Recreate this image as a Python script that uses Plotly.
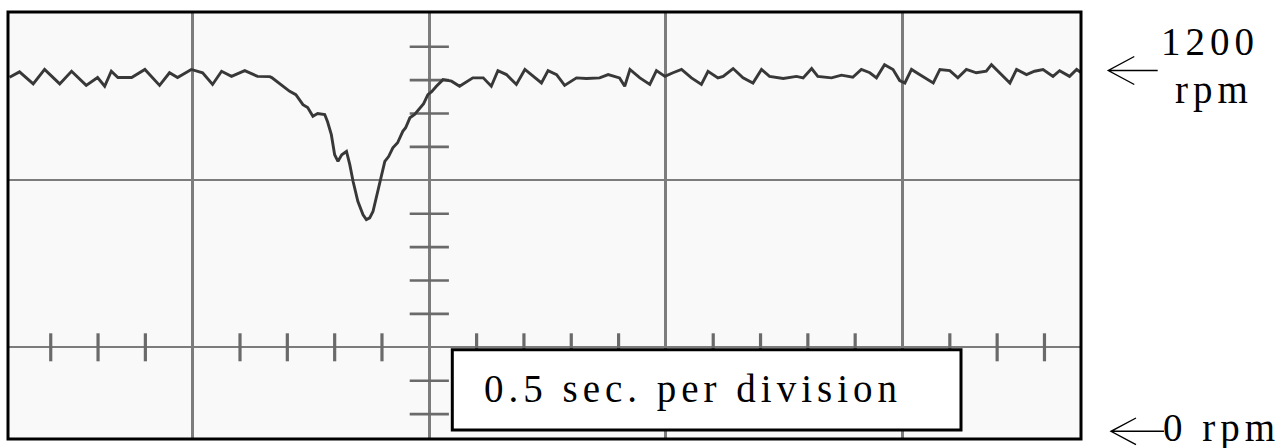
import numpy as np
import plotly.graph_objects as go

# Motor speed trace captured on the scope (time in s, speed in rpm)
time_s = [
    0.113, 0.134, 0.163, 0.187, 0.219, 0.244, 0.275, 0.299, 0.314, 0.328,
    0.342, 0.371, 0.399, 0.430, 0.451, 0.468, 0.497, 0.521, 0.542, 0.561,
    0.582, 0.610, 0.637, 0.663,
    0.667, 0.684, 0.705, 0.718, 0.733, 0.743, 0.754, 0.764, 0.779, 0.785,
    0.793, 0.800, 0.807, 0.815, 0.825, 0.832, 0.839, 0.849, 0.860, 0.867,
    0.874, 0.881, 0.888, 0.895, 0.906, 0.914, 0.923, 0.933, 0.944, 0.950,
    0.959, 0.969, 0.980, 0.988, 0.997, 1.005, 1.015, 1.029, 1.047, 1.064,
    1.092, 1.114, 1.131, 1.145, 1.163, 1.184, 1.202, 1.223, 1.237, 1.251,
    1.269, 1.286, 1.311, 1.332, 1.360, 1.378, 1.402, 1.413, 1.424, 1.445,
    1.466, 1.480, 1.498, 1.515, 1.533, 1.554, 1.575, 1.589, 1.610, 1.621,
    1.642, 1.663, 1.684, 1.702, 1.719,
    1.748, 1.776, 1.790, 1.808, 1.821, 1.850, 1.871, 1.895, 1.913, 1.931,
    1.945, 1.962, 1.980, 1.994, 2.005, 2.019, 2.036, 2.065, 2.079, 2.100,
    2.117, 2.135, 2.156, 2.177, 2.188, 2.205, 2.227, 2.241, 2.262, 2.279,
    2.297, 2.318, 2.332, 2.353, 2.368, 2.378,
]
speed_rpm = [
    1181, 1199, 1159, 1207, 1159, 1201, 1154, 1180, 1151, 1201,
    1180, 1180, 1207, 1154, 1196, 1180, 1207, 1196, 1157, 1201,
    1184, 1203, 1184, 1183,
    1180, 1160, 1134, 1123, 1090, 1080, 1051, 1060, 1057, 1033,
    990, 923, 901, 923, 934, 890, 834, 768, 723, 707,
    713, 734, 779, 834, 901, 917, 946, 963, 1001, 1013,
    1046, 1057, 1079, 1093, 1123, 1133, 1151, 1173, 1168, 1151,
    1179, 1179, 1151, 1203, 1190, 1157, 1207, 1179, 1162, 1203,
    1190, 1154, 1179, 1177, 1179, 1190, 1179, 1151, 1207, 1179,
    1157, 1203, 1184, 1196, 1207, 1179, 1157, 1201, 1179, 1184,
    1210, 1179, 1162, 1207, 1184,
    1177, 1184, 1179, 1210, 1184, 1179, 1188, 1181, 1207, 1196,
    1179, 1223, 1207, 1170, 1162, 1207, 1190, 1162, 1207, 1203,
    1179, 1207, 1196, 1201, 1223, 1196, 1162, 1207, 1190, 1201,
    1207, 1184, 1203, 1184, 1207, 1196,
]

caption = "0.5 sec. per division"
top_value, top_unit = "1200", "rpm"
bottom_label = "0 rpm"

# Graticule: 0.5 s per division horizontally, 5 minor ticks per division
SEC_PER_DIV = 0.5
X_RANGE = [0.1097, 2.3772]
Y_RANGE = [-23.3, 1398.3]
H_GRID_RPM = [282.0, 838.0]
V_GRID_S = [0.5, 1.0, 1.5, 2.0]
CENTER_T = 1.0
CENTER_RPM = H_GRID_RPM[0]
minor_t = np.round(np.arange(0.2, 2.35, SEC_PER_DIV / 5), 3)
minor_t = minor_t[~np.isin(minor_t, V_GRID_S)]
minor_step_rpm = (H_GRID_RPM[1] - H_GRID_RPM[0]) / 5
minor_rpm = CENTER_RPM + minor_step_rpm * np.arange(-2, 10)
minor_rpm = minor_rpm[(minor_rpm > Y_RANGE[0]) & (minor_rpm < Y_RANGE[1])]
minor_rpm = minor_rpm[~np.isin(np.round(minor_rpm, 3), H_GRID_RPM)]

W, H = 1286, 448
ML, MR, MT, MB = 8, 205, 12, 9
PW, PH = W - ML - MR, H - MT - MB


def px(x):
    return (x - ML) / PW


def py(y):
    return (H - MB - y) / PH


GRID = "#7c7c7c"
INK = "#383838"
SERIF = "Liberation Serif, Times New Roman, serif"

fig = go.Figure()

# minor ticks on the centre graticule lines
fig.add_trace(go.Scatter(
    x=minor_t, y=[CENTER_RPM] * len(minor_t), mode="markers",
    marker=dict(symbol="line-ns", size=20, line=dict(color="#6a6a6a", width=3.2)),
    hoverinfo="skip", showlegend=False))
fig.add_trace(go.Scatter(
    x=[CENTER_T] * len(minor_rpm), y=minor_rpm, mode="markers",
    marker=dict(symbol="line-ew", size=28, line=dict(color="#6a6a6a", width=2.6)),
    hoverinfo="skip", showlegend=False))

# speed trace
fig.add_trace(go.Scatter(
    x=time_s, y=speed_rpm, mode="lines",
    line=dict(color=INK, width=2.9),
    hoverinfo="skip", showlegend=False))

fig.update_xaxes(range=X_RANGE, tickvals=V_GRID_S, showticklabels=False,
                 ticks="", showgrid=True, gridcolor=GRID, gridwidth=2.6,
                 zeroline=False, showline=False, fixedrange=True)
fig.update_yaxes(range=Y_RANGE, tickvals=H_GRID_RPM, showticklabels=False,
                 ticks="", showgrid=True, gridcolor=GRID, gridwidth=2.4,
                 zeroline=False, showline=False, fixedrange=True)

shapes = [
    # screen frame
    dict(type="rect", xref="paper", yref="paper", x0=0, x1=1, y0=0, y1=1,
         line=dict(color="black", width=3), layer="above"),
    # caption box
    dict(type="rect", xref="paper", yref="paper",
         x0=px(452.3), x1=px(961), y0=py(430), y1=py(349.7),
         line=dict(color="black", width=3), fillcolor="white", layer="above"),
]


def arrow(x_tip, x_end, y, head_dx, head_dy):
    return dict(
        type="path", xref="paper", yref="paper",
        path=(f"M{px(x_end)},{py(y)} L{px(x_tip)},{py(y)} "
              f"M{px(x_tip + head_dx)},{py(y - head_dy)} L{px(x_tip)},{py(y)} "
              f"L{px(x_tip + head_dx)},{py(y + head_dy)}"),
        line=dict(color="black", width=1.4), layer="above")


shapes.append(arrow(1108.3, 1157.7, 70.5, 26, 14))
shapes.append(arrow(1111, 1164, 431.3, 25, 13.3))


def spaced(s):
    return f'<span style="letter-spacing:5px">{s}</span>'


def label(text, x_left, y_mid):
    return dict(text=spaced(text), xref="paper", yref="paper",
                x=px(x_left), y=py(y_mid), xanchor="left", yanchor="middle",
                showarrow=False, borderpad=0, borderwidth=0,
                font=dict(family=SERIF, size=39, color="black"))


annotations = [
    label(caption, 484, 388.5),
    label(top_value, 1160.7, 41.8),
    label(top_unit, 1175, 90.1),
    label(bottom_label, 1163, 427.8),
]

fig.update_layout(
    width=W, height=H,
    margin=dict(l=ML, r=MR, t=MT, b=MB, pad=0),
    paper_bgcolor="white", plot_bgcolor="#f9f9f9",
    shapes=shapes, annotations=annotations,
    showlegend=False,
)

fig.write_html("out.html", config={"displayModeBar": False})
